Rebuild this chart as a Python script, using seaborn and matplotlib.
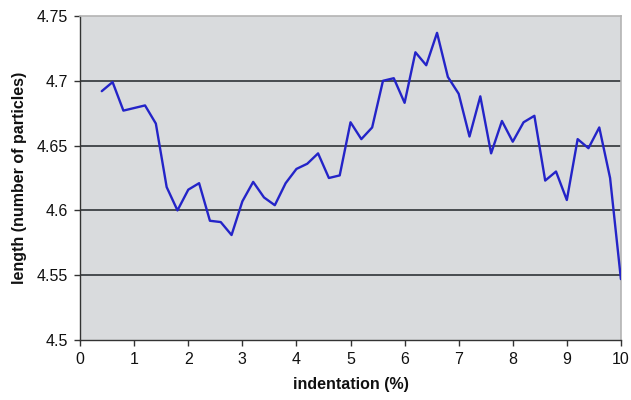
import matplotlib
matplotlib.use("Agg")
import matplotlib.pyplot as plt
import seaborn as sns
import pandas as pd

# indentation (%) and measured chain length
indentation = [0.4, 0.6, 0.8, 1.0, 1.2, 1.4, 1.6, 1.8, 2.0, 2.2,
               2.4, 2.6, 2.8, 3.0, 3.2, 3.4, 3.6, 3.8, 4.0, 4.2,
               4.4, 4.6, 4.8, 5.0, 5.2, 5.4, 5.6, 5.8, 6.0, 6.2,
               6.4, 6.6, 6.8, 7.0, 7.2, 7.4, 7.6, 7.8, 8.0, 8.2,
               8.4, 8.6, 8.8, 9.0, 9.2, 9.4, 9.6, 9.8, 10.0]
length = [4.692, 4.699, 4.677, 4.679, 4.681, 4.667, 4.618, 4.600, 4.616, 4.621,
          4.592, 4.591, 4.581, 4.607, 4.622, 4.610, 4.604, 4.621, 4.632, 4.636,
          4.644, 4.625, 4.627, 4.668, 4.655, 4.664, 4.700, 4.702, 4.683, 4.722,
          4.712, 4.737, 4.703, 4.690, 4.657, 4.688, 4.644, 4.669, 4.653, 4.668,
          4.673, 4.623, 4.630, 4.608, 4.655, 4.648, 4.664, 4.625, 4.547]

x_ticks = [0, 1, 2, 3, 4, 5, 6, 7, 8, 9, 10]
y_ticks = [4.5, 4.55, 4.6, 4.65, 4.7, 4.75]
y_tick_labels = ["4.5", "4.55", "4.6", "4.65", "4.7", "4.75"]

df = pd.DataFrame({"indentation": indentation, "length": length})

sns.set_style("white")
plt.rcParams["font.family"] = ["Liberation Sans", "DejaVu Sans"]

fig = plt.figure(figsize=(6.31, 4.0), dpi=100)
ax = fig.add_axes([0.127, 0.15, 0.857, 0.81])
ax.set_facecolor("#d9dbdd")

sns.lineplot(data=df, x="indentation", y="length", ax=ax,
             color="#2424c8", linewidth=1.7, zorder=3)

ax.set_xlim(0, 10)
ax.set_ylim(4.5, 4.75)
ax.set_xticks(x_ticks)
ax.set_yticks(y_ticks)
ax.set_yticklabels(y_tick_labels)

for v in [4.55, 4.6, 4.65, 4.7]:
    ax.axhline(v, color="#3c4044", linewidth=1.3, zorder=2)

for side in ["top", "right"]:
    ax.spines[side].set_color("#b4b4b4")
    ax.spines[side].set_linewidth(1.2)
for side in ["left", "bottom"]:
    ax.spines[side].set_color("#333333")
    ax.spines[side].set_linewidth(1.0)

ax.tick_params(axis="both", direction="out", length=4, width=1.0,
               color="#333333", labelsize=11.5, pad=5, labelcolor="#111111")
ax.tick_params(axis="y", left=True)
ax.tick_params(axis="x", bottom=True)

ax.set_xlabel("indentation (%)", fontsize=11.5, fontweight="bold",
              color="#111111", labelpad=7)
ax.set_ylabel("length (number of particles)", fontsize=11.5,
              fontweight="bold", color="#111111", labelpad=7)

fig.savefig("out.png", dpi=100, facecolor="white")
